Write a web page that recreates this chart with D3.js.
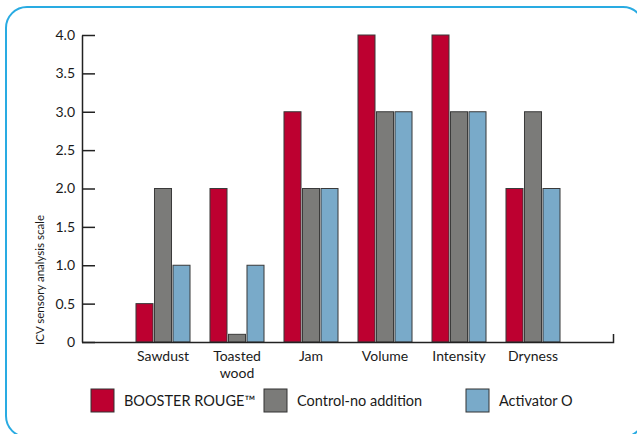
<!DOCTYPE html>
<html><head><meta charset="utf-8">
<script src="https://cdn.jsdelivr.net/npm/d3@7"></script>
<style>
html,body{margin:0;padding:0;background:#fff;}
svg{display:block;font-family:Lato,"Open Sans",sans-serif;}
</style></head>
<body>
<svg id="c" width="637" height="434"></svg>
<script>
const categories = ["Sawdust", "Toasted wood", "Jam", "Volume", "Intensity", "Dryness"];
const seriesNames = ["BOOSTER ROUGE™", "Control-no addition", "Activator O"];
const boosterRouge = [0.5, 2, 3, 4, 4, 2];
const controlNoAddition = [2, 0.1, 2, 3, 3, 3];
const activatorO = [1, 1, 2, 3, 3, 2];
const yTicks = [0, 0.5, 1, 1.5, 2, 2.5, 3, 3.5, 4];
const yTitle = "ICV sensory analysis scale";

const colors = ["#bd0030", "#7b7b79", "#79aac9"];
const seriesValues = [boosterRouge, controlNoAddition, activatorO];
const FONT = "Lato";

const svg = d3.select("#c");

// frame
svg.append("rect").attr("x", 6).attr("y", 7).attr("width", 638).attr("height", 430)
  .attr("rx", 21).attr("ry", 21).attr("fill", "none").attr("stroke", "#29abe2").attr("stroke-width", 2);

const y = d3.scaleLinear().domain([0, 4]).range([342, 35]);
const x0 = d3.scaleBand().domain(categories).range([126, 570]).paddingInner(0.27).paddingOuter(0.135);
const x1 = d3.scaleBand().domain(seriesNames).range([0, x0.bandwidth()]).paddingInner(0.08);

// bars
const g = svg.append("g");
categories.forEach((cat, i) => {
  seriesNames.forEach((s, j) => {
    const v = seriesValues[j][i];
    g.append("rect")
      .attr("x", x0(cat) + x1(s))
      .attr("y", y(v))
      .attr("width", x1.bandwidth())
      .attr("height", y(0) - y(v))
      .attr("fill", colors[j])
      .attr("stroke", "#3a3a3a")
      .attr("stroke-width", 1);
  });
});

// y axis
const yAxis = d3.axisLeft(y).tickValues(yTicks)
  .tickFormat(d => d === 0 ? "0" : d3.format(".1f")(d))
  .tickSizeInner(-13).tickSizeOuter(0).tickPadding(7);
const ya = svg.append("g").attr("transform", "translate(82,0)").call(yAxis);
ya.selectAll("path").attr("stroke", "#222").attr("stroke-width", 1.5);
ya.selectAll("line").attr("stroke", "#222").attr("stroke-width", 1.5);
ya.selectAll("text").attr("font-size", 14).attr("fill", "#1a1a1a").attr("font-family", FONT);

// x axis line
svg.append("path").attr("d", `M82,342.5H613.5V334`).attr("fill", "none").attr("stroke", "#222").attr("stroke-width", 1.5);

// x labels
categories.forEach(cat => {
  const words = cat.split(" ");
  const cx = x0(cat) + x0.bandwidth() / 2;
  words.forEach((w, k) => {
    svg.append("text").attr("text-anchor", "middle").attr("font-size", 14).attr("fill", "#1a1a1a")
      .attr("x", cx).attr("y", 360.5 + k * 17).text(w);
  });
});

// y title
svg.append("text").attr("transform", "translate(44,345) rotate(-90)")
  .attr("font-size", 11.5).attr("fill", "#1a1a1a").text(yTitle);

// legend
const legendX = [91, 264, 466];
seriesNames.forEach((s, j) => {
  svg.append("rect").attr("x", legendX[j]).attr("y", 389).attr("width", 23).attr("height", 23)
    .attr("fill", colors[j]).attr("stroke", "#333").attr("stroke-width", 1);
  svg.append("text").attr("x", legendX[j] + 33).attr("y", 406).attr("font-size", 14.5).attr("fill", "#1a1a1a").text(s);
});
</script>
</body></html>
